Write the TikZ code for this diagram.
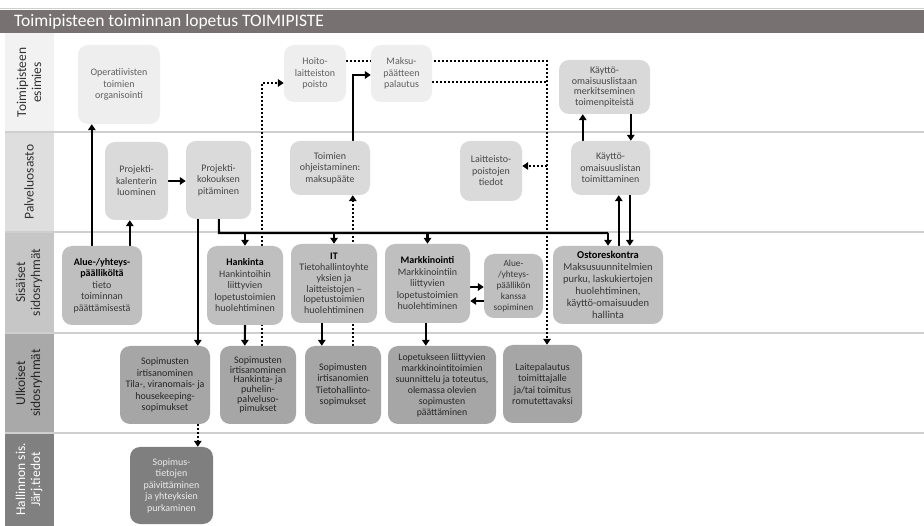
\documentclass[tikz,border=0pt]{standalone}
\usepackage{fontspec}
\setmainfont{Carlito}
\usetikzlibrary{arrows.meta}
\pgfdeclarelayer{lanes}
\pgfdeclarelayer{edges}
\pgfsetlayers{lanes,edges,main}

\definecolor{titlebar}{HTML}{777271}
\definecolor{laneA}{HTML}{F2F2F2}
\definecolor{laneB}{HTML}{DEDEDE}
\definecolor{laneC}{HTML}{C6C6C6}
\definecolor{laneD}{HTML}{A9A9A9}
\definecolor{laneE}{HTML}{808080}
\definecolor{rule}{HTML}{CFCFCF}
\definecolor{boxA}{HTML}{EEEEEE}
\definecolor{boxAd}{HTML}{D9D9D9}
\definecolor{boxB}{HTML}{DADADA}
\definecolor{boxC}{HTML}{BFBFBF}
\definecolor{boxD}{HTML}{A6A6A6}
\definecolor{boxE}{HTML}{7F7F7F}

\tikzset{
  box/.style={rounded corners=10pt, align=center, inner sep=1pt,
    font=\fontsize{10}{11.5}\selectfont},
  bA/.style={box, fill=boxA, text=black!62},
  bAd/.style={box, fill=boxAd, text=black!72},
  bB/.style={box, fill=boxB, text=black!72},
  bC/.style={box, fill=boxC, text=black!78},
  bD/.style={box, fill=boxD, text=black!85},
  bE/.style={box, fill=boxE, text=white!92!black},
  sz/.style 2 args={minimum width=#1pt, minimum height=#2pt},
  lanelabel/.style={rotate=90, align=center, font=\fontsize{13.5}{15}\selectfont},
  arr/.style={line width=2.1pt, -{Triangle[length=6pt,width=7.5pt]}},
  conn/.style={line width=2.1pt},
  dotarr/.style={line width=2.5pt, dash pattern=on 2.2pt off 1.8pt,
    -{Triangle[length=6pt,width=7.5pt]}},
  dotline/.style={line width=2.5pt, dash pattern=on 2.2pt off 1.8pt},
}

\begin{document}
\begin{tikzpicture}[x=1pt,y=-1pt]
\useasboundingbox (0,0) rectangle (924,526);

% ---------- swimlanes and header ----------
\begin{pgfonlayer}{lanes}
  \fill[white] (0,0) rectangle (924,526);
  \draw[rule, line width=1pt] (0,8.5) -- (924,8.5);
  \fill[titlebar] (0,10) rectangle (924,33);
  \node[anchor=west, text=white, font=\fontsize{17.5}{20}\selectfont, inner sep=0pt]
    (title) at (14,21.5) {Toimipisteen toiminnan lopetus TOIMIPISTE};
  \fill[laneA] (5,33) rectangle (54,132);
  \fill[laneB] (5,132) rectangle (54,232);
  \fill[laneC] (5,232) rectangle (54,333);
  \fill[laneD] (5,333) rectangle (54,433);
  \fill[laneE] (5,433) rectangle (54,526);
  \foreach \yy in {132,232,333,433}
    \draw[rule, line width=1.3pt] (5,\yy) -- (924,\yy);
  \node[lanelabel, text=black!80] (lane1) at (29,82.5) {Toimipisteen\\esimies};
  \node[lanelabel, text=black!80] (lane2) at (29,182) {Palveluosasto};
  \node[lanelabel, text=black!82] (lane3) at (29,282.5) {Sisäiset\\sidosryhmät};
  \node[lanelabel, text=black!85] (lane4) at (29,383) {Ulkoiset\\sidosryhmät};
  \node[lanelabel, text=white] (lane5) at (29,479.5) {Hallinnon sis.\\Järj.tiedot};
\end{pgfonlayer}

% ---------- Toimipisteen esimies ----------
\node[bA, sz={82}{79}] (op) at (119,84.5) {Operatiivisten\\toimien\\organisointi};
\node[bA, sz={62}{57}] (hoito) at (315,73.5) {Hoito-\\laitteiston\\poisto};
\node[bA, sz={61}{57}] (maksu) at (401.5,73.5) {Maksu-\\päätteen\\palautus};
\node[bAd, sz={91}{54}, font=\fontsize{10}{10.7}\selectfont] (kmerk) at (604.5,87)
  {Käyttö-\\omaisuuslistaan\\merkitseminen\\toimenpiteistä};

% ---------- Palveluosasto ----------
\node[bB, sz={63}{78}] (pkal) at (136.5,181) {Projekti-\\kalenterin\\luominen};
\node[bB, sz={65}{78}] (pkok) at (218.5,180) {Projekti-\\kokouksen\\pitäminen};
\node[bB, sz={80}{54}] (ohj) at (330,168) {Toimien\\ohjeistaminen:\\maksupääte};
\node[bB, sz={62}{60}] (lpoist) at (491,171) {Laitteisto-\\poistojen\\tiedot};
\node[bB, sz={79}{54}] (ktoim) at (610.5,168) {Käyttö-\\omaisuuslistan\\toimittaminen};

% ---------- Sisäiset sidosryhmät ----------
\node[bC, sz={80}{79}] (alue) at (102,285.5)
  {\textbf{\color{black}Alue-/yhteys-}\\\textbf{\color{black}päälliköltä}\\tieto\\toiminnan\\päättämisestä};
\node[bC, sz={76}{79}] (hank) at (245,285.5)
  {\textbf{\color{black}Hankinta}\\Hankintoihin\\liittyvien\\lopetustoimien\\huolehtiminen};
\node[bC, sz={86}{79}, font=\fontsize{10}{10.8}\selectfont] (it) at (334,283.5)
  {\textbf{\color{black}IT}\\Tietohallintoyhte\\yksien ja\\laitteistojen --\\lopetustoimien\\huolehtiminen};
\node[bC, sz={85}{79}] (mark) at (427.5,283.5)
  {\textbf{\color{black}Markkinointi}\\Markkinointiin\\liittyvien\\lopetustoimien\\huolehtiminen};
\node[bC, sz={59}{64}, font=\fontsize{9.3}{10.8}\selectfont] (aluesop) at (513.5,286)
  {Alue-\\/yhteys-\\päällikön\\kanssa\\sopiminen};
\node[bC, sz={110}{78}, font=\fontsize{10.5}{12}\selectfont] (osto) at (608,285)
  {\textbf{\color{black}Ostoreskontra}\\Maksusuunnitelmien\\purku, laskukiertojen\\huolehtiminen,\\käyttö-omaisuuden\\hallinta};

% ---------- Ulkoiset sidosryhmät ----------
\node[bD, sz={90}{78}] (stila) at (165,385)
  {Sopimusten\\irtisanominen\\Tila-, viranomais- ja\\housekeeping-\\sopimukset};
\node[bD, sz={76}{78}, font=\fontsize{10}{9.6}\selectfont] (shank) at (258,385)
  {Sopimusten\\irtisanominen\\Hankinta- ja\\puhelin-\\palveluso-\\pimukset};
\node[bD, sz={76}{78}] (stieto) at (343,385)
  {Sopimusten\\irtisanomien\\Tietohallinto-\\sopimukset};
\node[bD, sz={108}{78}, font=\fontsize{9.8}{11}\selectfont] (lop) at (442,385)
  {Lopetukseen liittyvien\\markkinointitoimien\\suunnittelu ja toteutus,\\olemassa olevien\\sopimusten\\päättäminen};
\node[bD, sz={79}{78}] (laite) at (542.5,384)
  {Laitepalautus\\toimittajalle\\ja/tai toimitus\\romutettavaksi};

% ---------- Hallinnon sis. järjestelmätiedot ----------
\node[bE, sz={83}{77}] (stiet) at (171.5,485.5)
  {Sopimus-\\tietojen\\päivittäminen\\ja yhteyksien\\purkaminen};

% ---------- connectors ----------
\coordinate (busL) at (219,233);
\coordinate (busR) at (608,233);
\coordinate (dR) at (547,61);
\coordinate (m2) at ([yshift=-8.5pt]maksu.east);
\coordinate (lp) at ([yshift=5pt]lpoist.east);

\begin{pgfonlayer}{edges}
  % solid flow
  \draw[arr] ([xshift=30pt]alue.north west) -- ([xshift=14pt]op.south west);
  \draw[arr] ([xshift=68pt]alue.north west) -- ([xshift=25pt]pkal.south west);
  \draw[arr] (pkal.east) -- (pkal.east -| pkok.west);
  \draw[arr] ([xshift=12pt]pkok.south west) -- ([xshift=78pt]stila.north west);
  \draw[conn] ([xshift=33pt]pkok.south west) -- (busL) -- (busR);
  \draw[arr] (busL -| hank.north) -- (hank.north);
  \draw[arr] (busL -| it.north) -- (it.north);
  \draw[arr] (busL -| mark.north) -- (mark.north);
  \draw[arr] (busR) -- (osto.north);
  \draw[arr] (hank.south) -- ([xshift=25pt]shank.north west);
  \draw[arr] ([xshift=31pt]it.south west) -- ([xshift=17pt]stieto.north west);
  \draw[arr] ([xshift=41pt]mark.south west) -- ([xshift=38pt]lop.north west);
  \draw[arr] ([yshift=-3.5pt]mark.east) -- ([yshift=-3.5pt]mark.east -| aluesop.west);
  \draw[arr] ([yshift=-15pt]aluesop.west) -- ([yshift=-15pt]aluesop.west -| mark.east);
  \draw[arr] ([xshift=66pt]osto.north west) -- ([xshift=66pt]osto.north west |- ktoim.south);
  \draw[arr] ([xshift=59pt]ktoim.south west) -- ([xshift=59pt]ktoim.south west |- osto.north);
  \draw[arr] ([xshift=12pt]ktoim.north west) -- ([xshift=12pt]ktoim.north west |- kmerk.south);
  \draw[arr] ([xshift=72pt]kmerk.south west) -- ([xshift=72pt]kmerk.south west |- ktoim.north);
  \draw[arr] ([xshift=63pt]ohj.north west) |- ([yshift=-1.5pt]maksu.west);
  % dotted flow
  \draw[dotarr] ([xshift=42pt]shank.north west) |- ([yshift=-9.5pt]hoito.west);
  \draw[dotarr] ([xshift=48pt]stieto.north west) -- ([xshift=48pt]stieto.north west |- ohj.south);
  \draw[dotarr] ([yshift=12.5pt]hoito.east) -| ([xshift=4.5pt]laite.north);
  \draw[dotline] (m2) -- (m2 -| dR);
  \draw[dotarr] (lp -| dR) -- (lp);
  \draw[dotarr] ([xshift=78pt]stila.south west) -- ([xshift=68pt]stiet.north west);
\end{pgfonlayer}
\end{tikzpicture}
\end{document}
